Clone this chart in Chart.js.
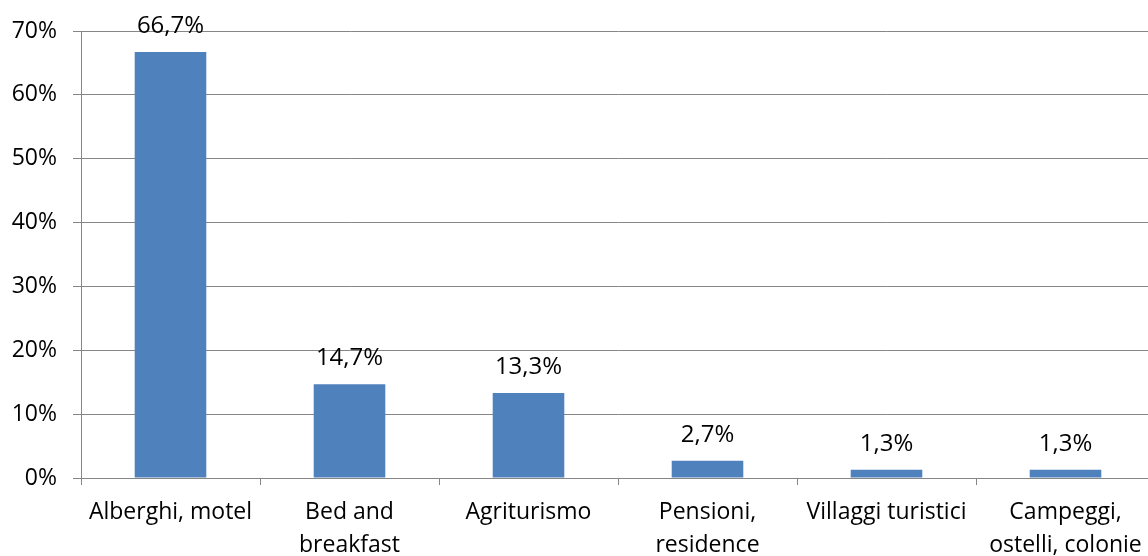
<!DOCTYPE html>
<html>
<head>
<meta charset="utf-8">
<script src="https://cdn.jsdelivr.net/npm/chart.js@4/dist/chart.umd.min.js"></script>
<style>
    html, body { margin: 0; padding: 0; background: #fff; overflow: hidden; }
    #wrap { width: 1156px; height: 556px; position: relative; }
</style>
</head>
<body>
<div id="wrap"><canvas id="chart"></canvas></div>
<script>
// --- data ---
const categories = [
    'Alberghi, motel',
    ['Bed and', 'breakfast'],
    'Agriturismo',
    ['Pensioni,', 'residence'],
    'Villaggi turistici',
    ['Campeggi,', 'ostelli, colonie']
];
const shares = [66.7, 14.7, 13.3, 2.7, 1.3, 1.3];
const yTicks = [0, 10, 20, 30, 40, 50, 60, 70];

const FONT = 'Open Sans';
const GRID = '#868686';

// draws the value above each bar (no datalabels plugin offline)
const barLabels = {
    id: 'barLabels',
    afterDatasetsDraw(chart) {
        const ctx = chart.ctx;
        const meta = chart.getDatasetMeta(0);
        ctx.save();
        ctx.font = `24px "${FONT}"`;
        ctx.fillStyle = '#000';
        ctx.textAlign = 'center';
        ctx.textBaseline = 'alphabetic';
        meta.data.forEach((bar, i) => {
            const txt = shares[i].toFixed(1).replace('.', ',') + '%';
            ctx.fillText(txt, bar.x, bar.y - 19);
        });
        ctx.restore();
    }
};

new Chart(document.getElementById('chart'), {
    type: 'bar',
    data: {
        labels: categories,
        datasets: [{
            data: shares,
            backgroundColor: '#4F81BD',
            barPercentage: 0.4,
            categoryPercentage: 1
        }]
    },
    options: {
        responsive: true,
        maintainAspectRatio: false,
        animation: false,
        layout: { padding: { top: 31, right: 1, left: 0, bottom: 0 } },
        plugins: {
            legend: { display: false },
            tooltip: { enabled: false }
        },
        scales: {
            x: {
                afterFit: axis => { axis.height = 78; },
                grid: {
                    offset: true,
                    drawOnChartArea: false,
                    drawTicks: true,
                    tickLength: 7,
                    color: GRID
                },
                border: { color: GRID },
                ticks: {
                    color: '#000',
                    padding: 11,
                    maxRotation: 0,
                    autoSkip: false,
                    font: { family: FONT, size: 23, lineHeight: 1.43 }
                }
            },
            y: {
                min: 0,
                max: 70,
                afterFit: axis => { axis.width = 81; },
                afterBuildTicks: axis => { axis.ticks = yTicks.map(v => ({ value: v })); },
                grid: { color: GRID, tickLength: 8 },
                border: { color: GRID },
                ticks: {
                    color: '#000',
                    padding: 16,
                    callback: v => v + '%',
                    font: { family: FONT, size: 23 }
                }
            }
        }
    },
    plugins: [barLabels]
});
</script>
</body>
</html>
